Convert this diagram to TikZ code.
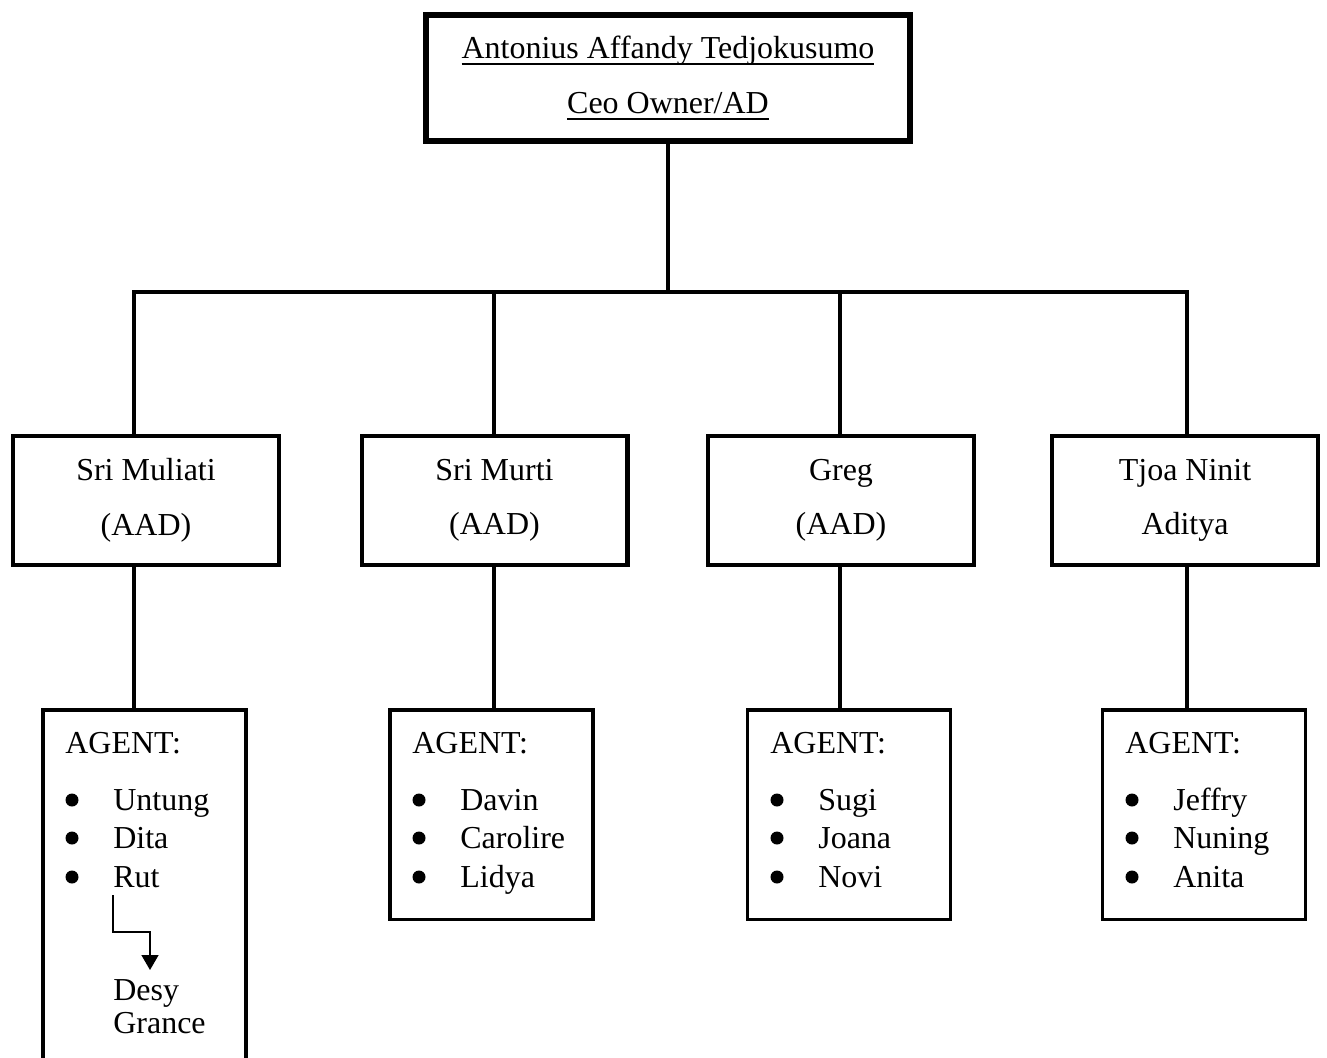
\documentclass[tikz,border=0pt]{standalone}
\usepackage{fontspec}
\setmainfont{Liberation Serif}
\usetikzlibrary{arrows.meta}
\newcommand{\garis}[1]{\setbox0=\hbox{#1}\rlap{\rule[-0.19em]{\wd0}{0.05em}}\box0}
\tikzset{
  ceobox/.style={draw, line width=3.4pt, minimum width=9.68cm, minimum height=2.52cm, align=center},
  leadbox/.style={draw, line width=2.3pt, minimum width=5.32cm, minimum height=2.58cm, align=center},
  agentbox/.style={draw, line width=2pt, minimum width=4.06cm, anchor=north},
  agtext/.style={anchor=base west, inner sep=0pt},
  link/.style={line width=2.8pt},
  flow/.style={line width=0.85pt, -{Triangle[width=0.34cm,length=0.3cm]}}
}
\begin{document}
\begin{tikzpicture}[x=0.02cm, y=-0.02cm, font=\fontsize{18.2}{31}\selectfont]
    \useasboundingbox (0,0) rectangle (1327,1057);
    \clip (0,0) rectangle (1327,1057);
    % CEO
    \node[ceobox] (ceo) at (668,78) {\garis{Antonius Affandy Tedjokusumo}\\\garis{Ceo Owner/AD}};
    % Kepala tim
    \node[leadbox] (sm) at (146,500.5) {Sri Muliati\\(AAD)};
    \node[leadbox] (smu) at (494.5,500.5) {Sri Murti\\(AAD)};
    \node[leadbox] (gr) at (841,500.5) {Greg\\(AAD)};
    \node[leadbox] (tn) at (1185,500.5) {Tjoa Ninit\\Aditya};
    % Kotak agent
    \node[agentbox, minimum height=8cm] (ag1) at (144.5,708) {};
    \node[agentbox, minimum height=4.2cm] (ag2) at (491.5,708) {};
    \node[agentbox, minimum height=4.2cm] (ag3) at (849,708) {};
    \node[agentbox, minimum height=4.2cm] (ag4) at (1204,708) {};
    % Garis penghubung
    \coordinate (hub) at (668,292);
    \coordinate (b1) at (134,292);
    \coordinate (b2) at (494,292);
    \coordinate (b3) at (840,292);
    \coordinate (b4) at (1187,292);
    \draw[link] (ceo.south) -- (hub);
    \draw[link] (b1 |- sm.north) -- (b1) -- (b4) -- (b4 |- tn.north);
    \draw[link] (b2) -- (b2 |- smu.north);
    \draw[link] (b3) -- (b3 |- gr.north);
    \draw[link] (b1 |- sm.south) -- (b1 |- ag1.north);
    \draw[link] (b2 |- smu.south) -- (b2 |- ag2.north);
    \draw[link] (b3 |- gr.south) -- (b3 |- ag3.north);
    \draw[link] (b4 |- tn.south) -- (b4 |- ag4.north);
    % Daftar agent
    \foreach \l/\n/\a/\b/\c in {43/1/Untung/Dita/Rut, 390/2/Davin/Carolire/Lidya,
                                748/3/Sugi/Joana/Novi, 1103/4/Jeffry/Nuning/Anita} {
        \node[agtext] (head\n) at (\l+22,753) {AGENT:};
        \node[agtext] (it\n a) at (\l+70,810) {\a};
        \node[agtext] (it\n b) at (\l+70,848) {\b};
        \node[agtext] (it\n c) at (\l+70,887) {\c};
        \foreach \y in {800,838,877}
            \fill (\l+29,\y) circle (0.13cm);
    }
    % Sub agent
    \node[agtext] (desy) at (113,1000) {Desy};
    \node[agtext] (grance) at (113,1033) {Grance};
    \coordinate (tip) at (150,970);
    \draw[flow] (it1c.base west) ++(0,8) -- ++(0,37) -| (tip);
\end{tikzpicture}
\end{document}
